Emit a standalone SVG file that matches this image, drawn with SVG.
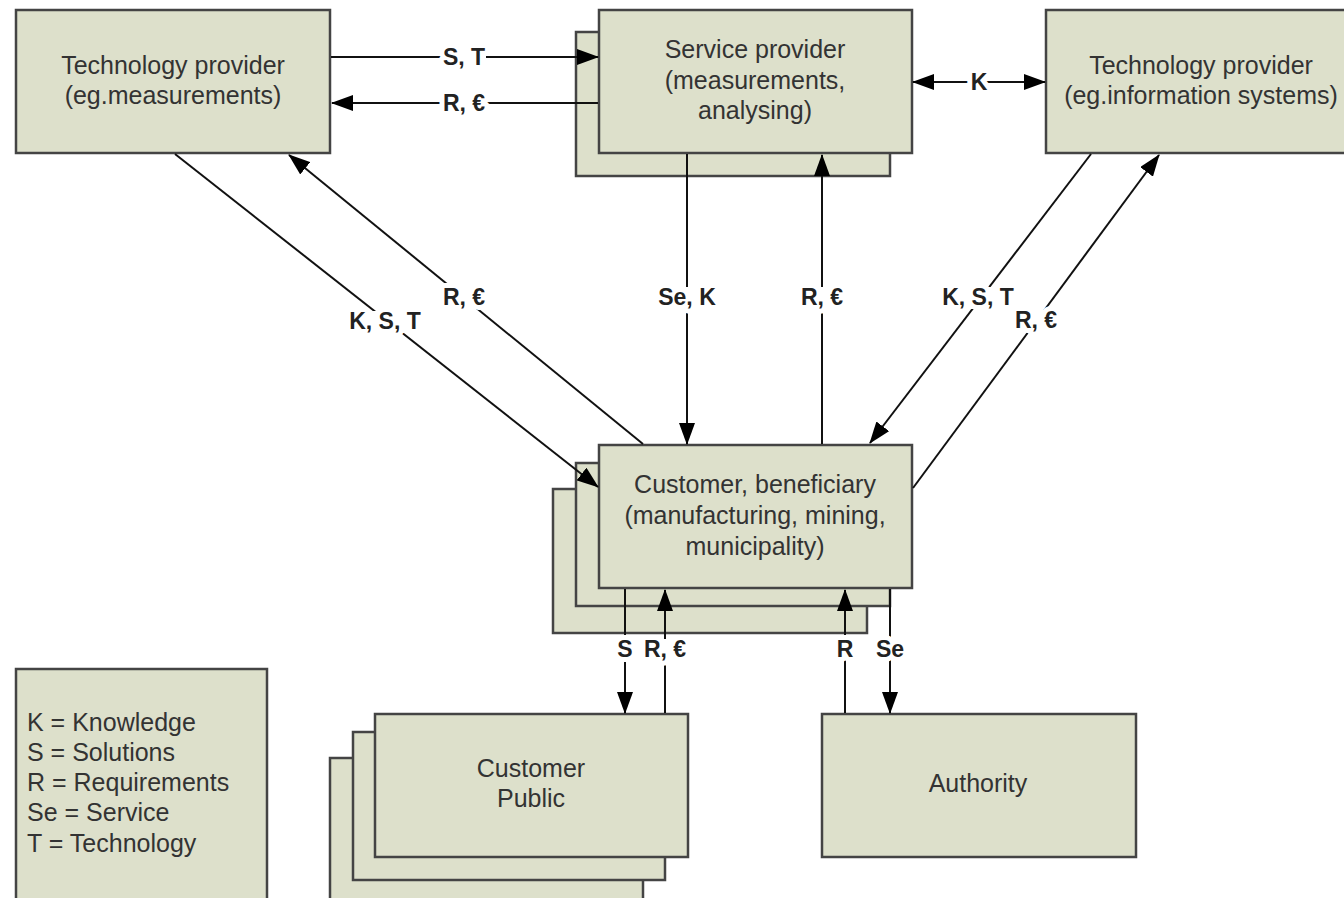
<svg xmlns="http://www.w3.org/2000/svg" width="1344" height="898" viewBox="0 0 1344 898">
<defs>
<marker id="ah" viewBox="0 0 22 16" refX="21" refY="8" markerWidth="22" markerHeight="16" markerUnits="userSpaceOnUse" orient="auto-start-reverse">
<path d="M0,0 L22,8 L0,16 Z" fill="#000"/>
</marker>
<style>
.box{fill:#dde0cb;stroke:#444;stroke-width:2.5}
.nt{font-family:"Liberation Sans",Arial,sans-serif;font-size:25px;fill:#333;text-anchor:middle}
.lg{font-family:"Liberation Sans",Arial,sans-serif;font-size:25px;fill:#333}
.ln{fill:none;stroke:#111;stroke-width:2}
.bg{fill:#fff}
.lb{font-family:"Liberation Sans",Arial,sans-serif;font-size:23px;font-weight:bold;fill:#222;text-anchor:middle;stroke:#fff;stroke-width:10;paint-order:stroke;stroke-linejoin:round}
</style>
</defs>
<rect width="1344" height="898" fill="#fff"/>

<g id="tech-left">
<rect class="box" x="16" y="10" width="314" height="143"/>
<text class="nt" x="173" y="74">Technology provider</text>
<text class="nt" x="173" y="104">(eg.measurements)</text>
</g>

<g id="service-provider">
<rect class="box" x="576" y="32" width="314" height="144"/>
<rect class="box" x="599" y="10" width="313" height="143"/>
<text class="nt" x="755" y="58">Service provider</text>
<text class="nt" x="755" y="89">(measurements,</text>
<text class="nt" x="755" y="119">analysing)</text>
</g>

<g id="tech-right">
<rect class="box" x="1046" y="10" width="300" height="143"/>
<text class="nt" x="1201" y="74">Technology provider</text>
<text class="nt" x="1201" y="104">(eg.information systems)</text>
</g>

<g id="customer-beneficiary">
<rect class="box" x="553" y="489" width="314" height="144"/>
<rect class="box" x="576" y="463" width="314" height="143"/>
<rect class="box" x="599" y="445" width="313" height="143"/>
<text class="nt" x="755" y="493">Customer, beneficiary</text>
<text class="nt" x="755" y="524">(manufacturing, mining,</text>
<text class="nt" x="755" y="555">municipality)</text>
</g>

<g id="customer-public">
<rect class="box" x="330" y="758" width="313" height="150"/>
<rect class="box" x="353" y="732" width="312" height="148"/>
<rect class="box" x="375" y="714" width="313" height="143"/>
<text class="nt" x="531" y="777">Customer</text>
<text class="nt" x="531" y="807">Public</text>
</g>

<g id="authority">
<rect class="box" x="822" y="714" width="314" height="143"/>
<text class="nt" x="978" y="792">Authority</text>
</g>

<g id="legend">
<rect class="box" x="16" y="669" width="251" height="240"/>
<text class="lg" x="27" y="731">K = Knowledge</text>
<text class="lg" x="27" y="761">S = Solutions</text>
<text class="lg" x="27" y="791">R = Requirements</text>
<text class="lg" x="27" y="821">Se = Service</text>
<text class="lg" x="27" y="852">T = Technology</text>
</g>

<g id="connectors">
<line class="ln" x1="331" y1="57" x2="598" y2="57" marker-end="url(#ah)"/>
<line class="ln" x1="598" y1="103" x2="332" y2="103" marker-end="url(#ah)"/>
<line class="ln" x1="913" y1="82" x2="1045" y2="82" marker-start="url(#ah)" marker-end="url(#ah)"/>
<line class="ln" x1="175" y1="154" x2="598" y2="487" marker-end="url(#ah)"/>
<line class="ln" x1="643" y1="444" x2="289" y2="155" marker-end="url(#ah)"/>
<line class="ln" x1="687" y1="154" x2="687" y2="444" marker-end="url(#ah)"/>
<line class="ln" x1="822" y1="444" x2="822" y2="155" marker-end="url(#ah)"/>
<line class="ln" x1="1091" y1="154" x2="870" y2="443" marker-end="url(#ah)"/>
<line class="ln" x1="913" y1="488" x2="1159" y2="155" marker-end="url(#ah)"/>
<line class="ln" x1="625" y1="589" x2="625" y2="713" marker-end="url(#ah)"/>
<line class="ln" x1="665" y1="713" x2="665" y2="590" marker-end="url(#ah)"/>
<line class="ln" x1="845" y1="713" x2="845" y2="590" marker-end="url(#ah)"/>
<line class="ln" x1="890" y1="589" x2="890" y2="713" marker-end="url(#ah)"/>
<rect class="bg" x="442" y="47" width="44" height="20"/>
<rect class="bg" x="442" y="93" width="44" height="20"/>
<rect class="bg" x="442" y="287" width="44" height="22"/>
<rect class="bg" x="350" y="311" width="70" height="22"/>
<rect class="bg" x="657" y="287" width="60" height="22"/>
<rect class="bg" x="800" y="287" width="44" height="22"/>
<rect class="bg" x="943" y="287" width="70" height="22"/>
<rect class="bg" x="1014" y="310" width="44" height="22"/>
<rect class="bg" x="643" y="639" width="44" height="22"/>
<text class="lb" x="464" y="65">S, T</text>
<text class="lb" x="464" y="111">R, €</text>
<text class="lb" x="979" y="90">K</text>
<text class="lb" x="385" y="329">K, S, T</text>
<text class="lb" x="464" y="305">R, €</text>
<text class="lb" x="687" y="305">Se, K</text>
<text class="lb" x="822" y="305">R, €</text>
<text class="lb" x="978" y="305">K, S, T</text>
<text class="lb" x="1036" y="328">R, €</text>
<text class="lb" x="625" y="657">S</text>
<text class="lb" x="665" y="657">R, €</text>
<text class="lb" x="845" y="657">R</text>
<text class="lb" x="890" y="657">Se</text>
</g>
</svg>
